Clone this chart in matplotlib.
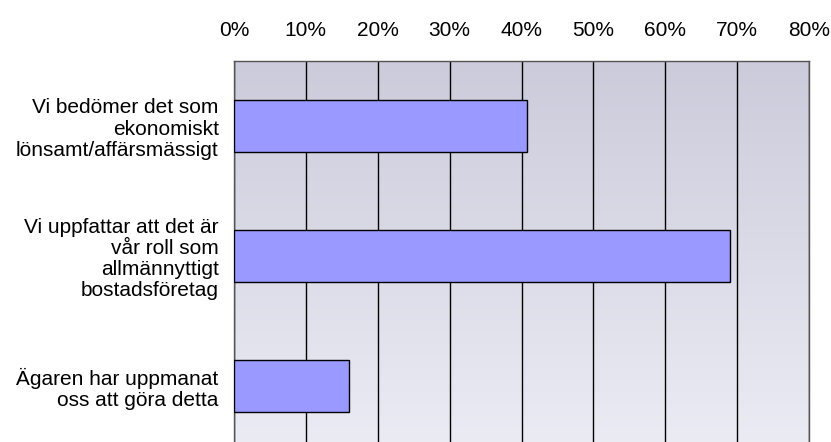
import matplotlib.pyplot as plt
import numpy as np

categories = ['Vi bedömer det som\nekonomiskt\nlönsamt/affärsmässigt',
              'Vi uppfattar att det är\nvår roll som\nallmännyttigt\nbostadsföretag',
              'Ägaren har uppmanat\noss att göra detta']
values = [0.408, 0.69, 0.16]
ticks = [0, 0.1, 0.2, 0.3, 0.4, 0.5, 0.6, 0.7, 0.8]
tick_labels = ['0%', '10%', '20%', '30%', '40%', '50%', '60%', '70%', '80%']

plt.rcParams['font.family'] = ['Liberation Sans', 'DejaVu Sans']

fig = plt.figure(figsize=(8.31, 4.42), dpi=100)
ax = fig.add_axes([234/831, (442-451)/442, (809-234)/831, (451-61)/442])

# gradient background: darker at top, lighter at bottom
top = np.array([203, 203, 219]) / 255
bot = np.array([236, 236, 245]) / 255
t = np.linspace(0, 1, 256)[:, None]
grad = (top * (1 - t) + bot * t)[:, None, :]
ax.imshow(grad, extent=[0, 0.8, 2.5, -0.5], aspect='auto', zorder=0)

y = np.arange(len(categories))
ax.barh(y, values, height=0.4, color='#9999FF', edgecolor='black', linewidth=1, zorder=3)

ax.set_xlim(0, 0.8)
ax.set_ylim(2.5, -0.5)
ax.set_xticks(ticks)
ax.set_xticklabels(tick_labels, fontsize=15)
ax.xaxis.tick_top()
ax.tick_params(axis='x', length=0, pad=15)
ax.set_yticks(y)
ax.set_yticklabels(categories, fontsize=15, linespacing=1.15, ha='right')
ax.tick_params(axis='y', length=0, pad=11)
ax.grid(axis='x', color='black', linewidth=1, zorder=1)
ax.set_axisbelow(True)
for s in ax.spines.values():
    s.set_color('#555555')
    s.set_linewidth(1)

fig.savefig('out.png', dpi=100)
